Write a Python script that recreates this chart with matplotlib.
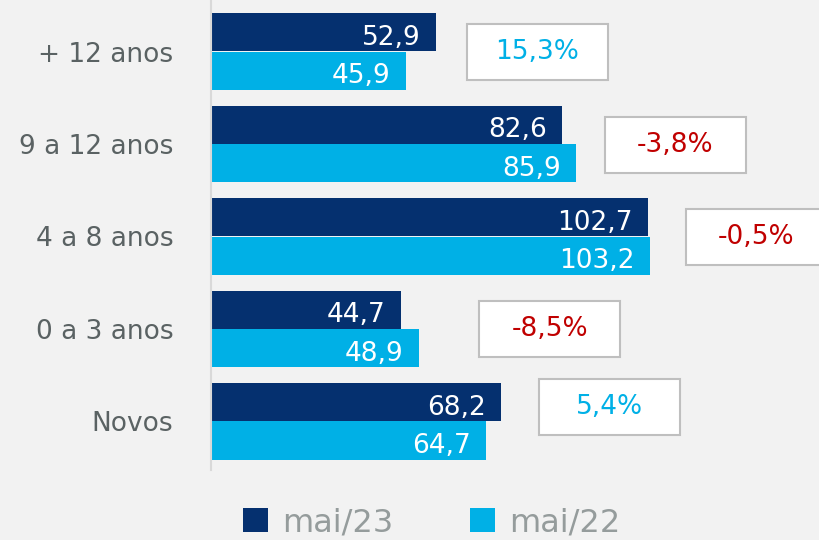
import numpy as np
import matplotlib.pyplot as plt
from matplotlib.patches import Rectangle

# data
categories = ["+ 12 anos", "9 a 12 anos", "4 a 8 anos", "0 a 3 anos", "Novos"]
mai23 = [52.9, 82.6, 102.7, 44.7, 68.2]
mai22 = [45.9, 85.9, 103.2, 48.9, 64.7]
variacao = ["15,3%", "-3,8%", "-0,5%", "-8,5%", "5,4%"]

# layout of the variation boxes (left edge in data units, vertical shift)
box_left = [60.2, 92.6, 111.6, 63.1, 77.2]
box_shift = [0.01, 0.01, 0.01, 0.0, -0.16]

dark = "#05306f"
cyan = "#00b0e6"
red = "#c00000"
bg = "#f2f2f2"

fig = plt.figure(figsize=(8.2, 5.4), dpi=100, facecolor=bg)
ax = fig.add_axes([211 / 820, 70 / 540, 609 / 820, 470 / 540])
ax.set_facecolor(bg)

y = np.arange(len(categories))
h = 0.416

b1 = ax.barh(y - h / 2, mai23, height=h, color=dark, label="mai/23")
b2 = ax.barh(y + h / 2, mai22, height=h, color=cyan, label="mai/22")

# value labels inside the bars
for yy, v in zip(y, mai23):
    ax.annotate(f"{v:.1f}".replace(".", ","), (v, yy - h / 2), xytext=(-11, -4),
                textcoords="offset points", ha="right", va="center",
                color="white", fontsize=19)
for yy, v in zip(y, mai22):
    ax.annotate(f"{v:.1f}".replace(".", ","), (v, yy + h / 2), xytext=(-11, -4),
                textcoords="offset points", ha="right", va="center",
                color="white", fontsize=19)

# variation boxes
bw = 141 / 4.253
bh = 56 / 92.5
for yy, x0, dy, txt in zip(y, box_left, box_shift, variacao):
    c = red if txt.startswith("-") else cyan
    ax.add_patch(Rectangle((x0, yy + dy - bh / 2), bw, bh, facecolor="white",
                           edgecolor="#bfbfbf", linewidth=1.5, zorder=3))
    ax.text(x0 + bw / 2, yy + dy, txt, ha="center", va="center",
            color=c, fontsize=19, zorder=4)

ax.set_xlim(0, 609 / 4.253)
ax.set_ylim((470 - 51.5) / 92.5, -51.5 / 92.5)

ax.set_yticks(y)
ax.set_yticklabels(categories, fontsize=19, color="#5a6263")
ax.tick_params(axis="y", length=0, pad=27)
ax.set_xticks([])
for s in ["top", "right", "bottom"]:
    ax.spines[s].set_visible(False)
ax.spines["left"].set_color("#d9d9d9")
ax.spines["left"].set_linewidth(1.5)

fig.legend(handles=[b1, b2], loc="center", bbox_to_anchor=(432 / 820, 1 - 523 / 540),
           ncol=2, frameon=False, fontsize=23, labelcolor="#959c9c",
           handlelength=0.78, handleheight=0.78, handletextpad=0.45,
           columnspacing=2.4)

plt.savefig("out.png", dpi=100, facecolor=bg)
